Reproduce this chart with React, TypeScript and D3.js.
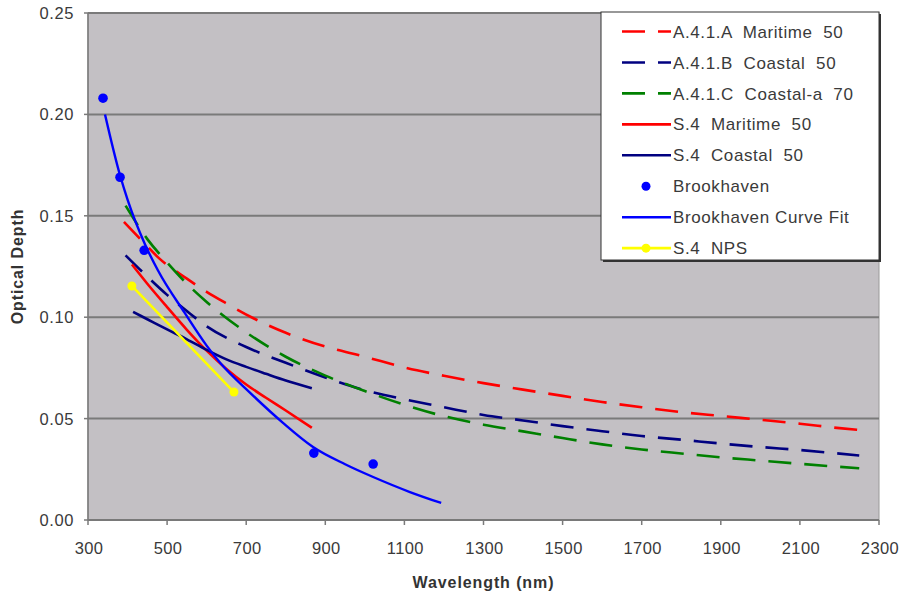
import React from "react";
import * as d3 from "d3";

const W = 904;
const H = 603;

const xTicks = [300, 500, 700, 900, 1100, 1300, 1500, 1700, 1900, 2100, 2300];
const yTicks = [0, 0.05, 0.1, 0.15, 0.2, 0.25];

// A.4.1.A Maritime 50 (red dashed)
const maritimeAX = [391, 440, 480, 550, 600, 650, 717, 800, 900, 1000, 1100, 1200, 1300, 1400, 1500, 1600, 1700, 1800, 1900, 2000, 2100, 2200, 2250];
const maritimeAY = [0.147, 0.137, 0.129, 0.119, 0.1125, 0.1068, 0.0996, 0.0923, 0.0855, 0.0805, 0.0752, 0.0711, 0.0675, 0.0643, 0.0612, 0.0582, 0.0556, 0.0532, 0.0513, 0.0494, 0.0475, 0.0453, 0.0444];

// A.4.1.B Coastal 50 (navy dashed)
const coastalBX = [395, 450, 500, 550, 600, 700, 800, 900, 1000, 1100, 1200, 1300, 1400, 1500, 1600, 1700, 1800, 1900, 2000, 2100, 2250];
const coastalBY = [0.1305, 0.12, 0.111, 0.103, 0.0955, 0.0853, 0.0775, 0.0703, 0.064, 0.0595, 0.0556, 0.0518, 0.0491, 0.0463, 0.0438, 0.0414, 0.0396, 0.0377, 0.036, 0.0345, 0.0318];

// A.4.1.C Coastal-a 70 (green dashed)
const coastalCX = [395, 450, 500, 550, 600, 700, 800, 900, 1000, 1100, 1200, 1300, 1400, 1500, 1600, 1700, 1800, 1900, 2000, 2100, 2250];
const coastalCY = [0.155, 0.1385, 0.127, 0.1165, 0.1075, 0.0925, 0.0805, 0.0712, 0.0636, 0.0568, 0.0512, 0.047, 0.0437, 0.0404, 0.0373, 0.0348, 0.0328, 0.0309, 0.0293, 0.0277, 0.0255];

// S.4 Maritime 50 (red solid)
const s4MaritimeX = [411, 450, 500, 550, 600, 650, 700, 750, 800, 866];
const s4MaritimeY = [0.126, 0.1165, 0.105, 0.0938, 0.0835, 0.0745, 0.0668, 0.0603, 0.054, 0.0455];

// S.4 Coastal 50 (navy solid)
const s4CoastalX = [414, 450, 500, 550, 600, 650, 700, 750, 800, 866];
const s4CoastalY = [0.1026, 0.099, 0.094, 0.0891, 0.0839, 0.0792, 0.0755, 0.0721, 0.0688, 0.065];

// Brookhaven measurements
const brookX = [338, 381, 442, 871, 1021];
const brookY = [0.208, 0.169, 0.133, 0.033, 0.0276];

// Brookhaven curve fit
const fitX = [343, 381, 400, 444, 477, 545, 600, 634, 710, 793, 869, 950, 1021, 1114, 1193];
const fitY = [0.2, 0.17, 0.158, 0.136, 0.123, 0.102, 0.086, 0.0775, 0.0627, 0.0479, 0.036, 0.0275, 0.0212, 0.0138, 0.0084];

// S.4 NPS
const npsX = [411, 669];
const npsY = [0.1154, 0.0631];

const legendLabels = [
  "A.4.1.A  Maritime  50",
  "A.4.1.B  Coastal  50",
  "A.4.1.C  Coastal-a  70",
  "S.4  Maritime  50",
  "S.4  Coastal  50",
  "Brookhaven",
  "Brookhaven Curve Fit",
  "S.4  NPS",
];

const zip = (xs: number[], ys: number[]) => xs.map((x, i) => [x, ys[i]] as [number, number]);

export default function App() {
  const left = 88, right = 879, top = 13, bottom = 520;
  const x = d3.scaleLinear().domain([300, 2300]).range([left, right]);
  const y = d3.scaleLinear().domain([0, 0.25]).range([bottom, top]);
  const line = d3
    .line<[number, number]>()
    .x((d) => x(d[0]))
    .y((d) => y(d[1]))
    .curve(d3.curveMonotoneX);

  const dash = "23,13";
  const series = [
    { data: zip(maritimeAX, maritimeAY), color: "#FF0000", dash, w: 2.6 },
    { data: zip(coastalBX, coastalBY), color: "#000080", dash, w: 2.6 },
    { data: zip(coastalCX, coastalCY), color: "#008000", dash, w: 2.6 },
    { data: zip(s4MaritimeX, s4MaritimeY), color: "#FF0000", dash: undefined, w: 2.6 },
    { data: zip(s4CoastalX, s4CoastalY), color: "#000080", dash: undefined, w: 2.6 },
    { data: zip(fitX, fitY), color: "#0000FF", dash: undefined, w: 2.4 },
  ];
  const nps = zip(npsX, npsY);
  const brook = zip(brookX, brookY);

  const font = "'Liberation Sans', Arial, sans-serif";
  const textCol = "#3a3a3a";

  const lgX = 601, lgY = 12, lgW = 278, lgH = 248;
  const rowY = (i: number) => 31.5 + i * 30.95;

  const legendItems = [
    { color: "#FF0000", dash, kind: "line" },
    { color: "#000080", dash, kind: "line" },
    { color: "#008000", dash, kind: "line" },
    { color: "#FF0000", dash: undefined, kind: "line" },
    { color: "#000080", dash: undefined, kind: "line" },
    { color: "#0000FF", dash: undefined, kind: "dot" },
    { color: "#0000FF", dash: undefined, kind: "line" },
    { color: "#FFFF00", dash: undefined, kind: "lineMarker" },
  ];

  return (
    <svg
      width={W}
      height={H}
      style={{ position: "absolute", left: 0, top: 0, background: "#fff" }}
      fontFamily={font}
    >
      <rect x={0} y={0} width={W} height={H} fill="#fff" />
      <rect x={left} y={top} width={right - left} height={bottom - top} fill="#C3C0C4" stroke="#9a9a9a" strokeWidth={1} />
      {yTicks.map((t) => (
        <line key={"g" + t} x1={left} x2={right} y1={y(t)} y2={y(t)} stroke="#7a7a7a" strokeWidth={2} />
      ))}
      {/* axes */}
      <line x1={left} x2={left} y1={top} y2={bottom} stroke="#7a7a7a" strokeWidth={1.5} />
      <line x1={left} x2={right} y1={bottom} y2={bottom} stroke="#7a7a7a" strokeWidth={1.5} />
      {yTicks.map((t) => (
        <g key={"yt" + t}>
          <line x1={left - 4} x2={left} y1={y(t)} y2={y(t)} stroke="#7a7a7a" strokeWidth={1.5} />
          <text x={74} y={y(t)} dy="0.36em" textAnchor="end" fontSize={16.5} fill={textCol} letterSpacing={0.6}>
            {t.toFixed(2)}
          </text>
        </g>
      ))}
      {xTicks.map((t) => (
        <g key={"xt" + t}>
          <line x1={x(t)} x2={x(t)} y1={bottom} y2={bottom + 5} stroke="#7a7a7a" strokeWidth={1.5} />
          <text x={x(t) + 1} y={554} textAnchor="middle" fontSize={16.5} fill={textCol} letterSpacing={0.4}>
            {t}
          </text>
        </g>
      ))}
      <text
        transform={`translate(23, ${(top + bottom) / 2}) rotate(-90)`}
        textAnchor="middle"
        fontSize={16}
        fontWeight="bold"
        fill="#333"
        letterSpacing={0.9}
      >
        Optical Depth
      </text>
      <text x={(left + right) / 2} y={588} textAnchor="middle" fontSize={16} fontWeight="bold" fill="#333" letterSpacing={0.9}>
        Wavelength (nm)
      </text>

      {/* series */}
      {series.map((s, i) => (
        <path
          key={"s" + i}
          d={line(s.data) || ""}
          fill="none"
          stroke={s.color}
          strokeWidth={s.w}
          strokeDasharray={s.dash}
          strokeLinecap="butt"
        />
      ))}
      <path d={line(nps) || ""} fill="none" stroke="#FFFF00" strokeWidth={2.6} />
      {nps.map((d, i) => (
        <circle key={"n" + i} cx={x(d[0])} cy={y(d[1])} r={4.5} fill="#FFFF00" />
      ))}
      {brook.map((d, i) => (
        <circle key={"b" + i} cx={x(d[0])} cy={y(d[1])} r={4.8} fill="#0000FF" />
      ))}

      {/* legend */}
      <rect x={lgX + 2} y={lgY + 2} width={lgW} height={lgH} fill="#333" />
      <rect x={lgX} y={lgY} width={lgW} height={lgH} fill="#fff" stroke="#333" strokeWidth={1} />
      {legendItems.map((it, i) => {
        const cy = rowY(i);
        return (
          <g key={"l" + i}>
            {it.kind !== "dot" && (
              <line x1={622} x2={671} y1={cy} y2={cy} stroke={it.color} strokeWidth={2.6} strokeDasharray={it.dash} />
            )}
            {(it.kind === "dot" || it.kind === "lineMarker") && (
              <circle cx={646} cy={cy} r={4.5} fill={it.color} />
            )}
            <text x={673} y={cy} dy="0.36em" fontSize={17} fill={textCol} letterSpacing={0.6} style={{ whiteSpace: "pre" }}>
              {legendLabels[i]}
            </text>
          </g>
        );
      })}
    </svg>
  );
}
